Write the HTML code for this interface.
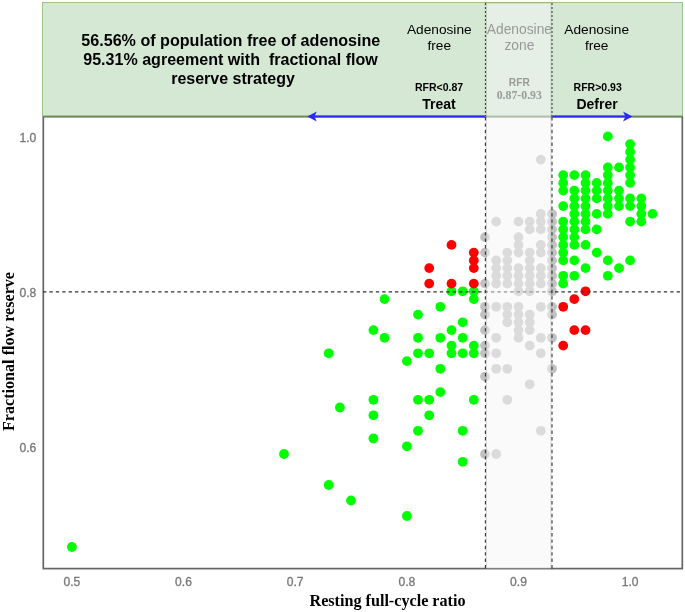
<!DOCTYPE html>
<html lang="en"><head><meta charset="utf-8"><title>Adenosine zone scatter plot</title>
<style>html,body{margin:0;padding:0;background:#fff}svg{display:block}</style></head>
<body>
<svg width="685" height="612" viewBox="0 0 685 612">
<rect width="685" height="612" fill="#fff"/>
<rect x="43.3" y="116.6" width="639" height="452" fill="#fff" stroke="#666" stroke-width="1.7"/>
<rect x="42.5" y="2.5" width="640" height="113.5" fill="#d5e8d4" stroke="#9cc48a" stroke-width="1"/>
<line x1="43" y1="116.5" x2="682.5" y2="116.5" stroke="#6d8a5c" stroke-width="1.4"/>
<g fill="#c1c1c1"><circle cx="485.0" cy="237.1" r="4.9"/><circle cx="485.0" cy="252.6" r="4.9"/><circle cx="485.0" cy="283.6" r="4.9"/><circle cx="485.0" cy="306.8" r="4.9"/><circle cx="485.0" cy="314.6" r="4.9"/><circle cx="485.0" cy="330.1" r="4.9"/><circle cx="485.0" cy="345.6" r="4.9"/><circle cx="485.0" cy="353.3" r="4.9"/><circle cx="485.0" cy="376.6" r="4.9"/><circle cx="485.0" cy="454.0" r="4.9"/><circle cx="496.2" cy="221.6" r="4.9"/><circle cx="496.2" cy="260.4" r="4.9"/><circle cx="496.2" cy="268.1" r="4.9"/><circle cx="496.2" cy="275.8" r="4.9"/><circle cx="496.2" cy="283.6" r="4.9"/><circle cx="496.2" cy="306.8" r="4.9"/><circle cx="496.2" cy="337.8" r="4.9"/><circle cx="496.2" cy="353.3" r="4.9"/><circle cx="496.2" cy="368.8" r="4.9"/><circle cx="496.2" cy="454.0" r="4.9"/><circle cx="507.3" cy="252.6" r="4.9"/><circle cx="507.3" cy="260.4" r="4.9"/><circle cx="507.3" cy="268.1" r="4.9"/><circle cx="507.3" cy="275.8" r="4.9"/><circle cx="507.3" cy="283.6" r="4.9"/><circle cx="507.3" cy="306.8" r="4.9"/><circle cx="507.3" cy="314.6" r="4.9"/><circle cx="507.3" cy="322.3" r="4.9"/><circle cx="507.3" cy="368.8" r="4.9"/><circle cx="507.3" cy="399.8" r="4.9"/><circle cx="518.5" cy="221.6" r="4.9"/><circle cx="518.5" cy="237.1" r="4.9"/><circle cx="518.5" cy="244.9" r="4.9"/><circle cx="518.5" cy="252.6" r="4.9"/><circle cx="518.5" cy="268.1" r="4.9"/><circle cx="518.5" cy="275.8" r="4.9"/><circle cx="518.5" cy="283.6" r="4.9"/><circle cx="518.5" cy="291.3" r="4.9"/><circle cx="518.5" cy="306.8" r="4.9"/><circle cx="518.5" cy="314.6" r="4.9"/><circle cx="518.5" cy="322.3" r="4.9"/><circle cx="518.5" cy="330.1" r="4.9"/><circle cx="518.5" cy="337.8" r="4.9"/><circle cx="529.7" cy="221.6" r="4.9"/><circle cx="529.7" cy="229.4" r="4.9"/><circle cx="529.7" cy="252.6" r="4.9"/><circle cx="529.7" cy="260.4" r="4.9"/><circle cx="529.7" cy="268.1" r="4.9"/><circle cx="529.7" cy="275.8" r="4.9"/><circle cx="529.7" cy="283.6" r="4.9"/><circle cx="529.7" cy="291.3" r="4.9"/><circle cx="529.7" cy="314.6" r="4.9"/><circle cx="529.7" cy="322.3" r="4.9"/><circle cx="529.7" cy="330.1" r="4.9"/><circle cx="529.7" cy="345.6" r="4.9"/><circle cx="529.7" cy="384.3" r="4.9"/><circle cx="540.8" cy="159.6" r="4.9"/><circle cx="540.8" cy="213.9" r="4.9"/><circle cx="540.8" cy="221.6" r="4.9"/><circle cx="540.8" cy="229.4" r="4.9"/><circle cx="540.8" cy="244.9" r="4.9"/><circle cx="540.8" cy="252.6" r="4.9"/><circle cx="540.8" cy="268.1" r="4.9"/><circle cx="540.8" cy="275.8" r="4.9"/><circle cx="540.8" cy="283.6" r="4.9"/><circle cx="540.8" cy="306.8" r="4.9"/><circle cx="540.8" cy="337.8" r="4.9"/><circle cx="540.8" cy="353.3" r="4.9"/><circle cx="540.8" cy="430.8" r="4.9"/><circle cx="552.0" cy="213.9" r="4.9"/><circle cx="552.0" cy="221.6" r="4.9"/><circle cx="552.0" cy="229.4" r="4.9"/><circle cx="552.0" cy="237.1" r="4.9"/><circle cx="552.0" cy="244.9" r="4.9"/><circle cx="552.0" cy="252.6" r="4.9"/><circle cx="552.0" cy="260.4" r="4.9"/><circle cx="552.0" cy="268.1" r="4.9"/><circle cx="552.0" cy="275.8" r="4.9"/><circle cx="552.0" cy="283.6" r="4.9"/><circle cx="552.0" cy="291.3" r="4.9"/><circle cx="552.0" cy="306.8" r="4.9"/><circle cx="552.0" cy="314.6" r="4.9"/><circle cx="552.0" cy="337.8" r="4.9"/><circle cx="552.0" cy="368.8" r="4.9"/></g>
<g fill="#00ff00"><circle cx="71.9" cy="547.0" r="4.9"/><circle cx="284.0" cy="454.0" r="4.9"/><circle cx="328.7" cy="485.0" r="4.9"/><circle cx="351.0" cy="500.5" r="4.9"/><circle cx="406.9" cy="516.0" r="4.9"/><circle cx="451.5" cy="291.3" r="4.9"/><circle cx="462.7" cy="291.3" r="4.9"/><circle cx="473.8" cy="291.3" r="4.9"/><circle cx="473.8" cy="299.1" r="4.9"/><circle cx="384.5" cy="299.1" r="4.9"/><circle cx="440.3" cy="306.8" r="4.9"/><circle cx="418.0" cy="314.6" r="4.9"/><circle cx="462.7" cy="322.3" r="4.9"/><circle cx="451.5" cy="330.1" r="4.9"/><circle cx="373.4" cy="330.1" r="4.9"/><circle cx="384.5" cy="337.8" r="4.9"/><circle cx="418.0" cy="337.8" r="4.9"/><circle cx="440.3" cy="337.8" r="4.9"/><circle cx="462.7" cy="337.8" r="4.9"/><circle cx="451.5" cy="345.6" r="4.9"/><circle cx="473.8" cy="345.6" r="4.9"/><circle cx="328.7" cy="353.3" r="4.9"/><circle cx="418.0" cy="353.3" r="4.9"/><circle cx="429.2" cy="353.3" r="4.9"/><circle cx="451.5" cy="353.3" r="4.9"/><circle cx="462.7" cy="353.3" r="4.9"/><circle cx="473.8" cy="353.3" r="4.9"/><circle cx="406.9" cy="361.1" r="4.9"/><circle cx="440.3" cy="368.8" r="4.9"/><circle cx="440.3" cy="392.1" r="4.9"/><circle cx="373.4" cy="399.8" r="4.9"/><circle cx="418.0" cy="399.8" r="4.9"/><circle cx="429.2" cy="399.8" r="4.9"/><circle cx="473.8" cy="399.8" r="4.9"/><circle cx="339.9" cy="407.5" r="4.9"/><circle cx="373.4" cy="415.3" r="4.9"/><circle cx="429.2" cy="415.3" r="4.9"/><circle cx="418.0" cy="430.8" r="4.9"/><circle cx="462.7" cy="430.8" r="4.9"/><circle cx="373.4" cy="438.5" r="4.9"/><circle cx="406.9" cy="446.3" r="4.9"/><circle cx="462.7" cy="461.8" r="4.9"/><circle cx="563.2" cy="175.1" r="4.9"/><circle cx="563.2" cy="182.9" r="4.9"/><circle cx="563.2" cy="190.6" r="4.9"/><circle cx="563.2" cy="206.1" r="4.9"/><circle cx="563.2" cy="221.6" r="4.9"/><circle cx="563.2" cy="229.4" r="4.9"/><circle cx="563.2" cy="237.1" r="4.9"/><circle cx="563.2" cy="244.9" r="4.9"/><circle cx="563.2" cy="252.6" r="4.9"/><circle cx="563.2" cy="260.4" r="4.9"/><circle cx="563.2" cy="275.8" r="4.9"/><circle cx="563.2" cy="283.6" r="4.9"/><circle cx="574.3" cy="175.1" r="4.9"/><circle cx="574.3" cy="190.6" r="4.9"/><circle cx="574.3" cy="198.4" r="4.9"/><circle cx="574.3" cy="206.1" r="4.9"/><circle cx="574.3" cy="213.9" r="4.9"/><circle cx="574.3" cy="221.6" r="4.9"/><circle cx="574.3" cy="229.4" r="4.9"/><circle cx="574.3" cy="237.1" r="4.9"/><circle cx="574.3" cy="244.9" r="4.9"/><circle cx="574.3" cy="260.4" r="4.9"/><circle cx="574.3" cy="275.8" r="4.9"/><circle cx="585.5" cy="175.1" r="4.9"/><circle cx="585.5" cy="182.9" r="4.9"/><circle cx="585.5" cy="190.6" r="4.9"/><circle cx="585.5" cy="198.4" r="4.9"/><circle cx="585.5" cy="206.1" r="4.9"/><circle cx="585.5" cy="213.9" r="4.9"/><circle cx="585.5" cy="221.6" r="4.9"/><circle cx="585.5" cy="229.4" r="4.9"/><circle cx="585.5" cy="244.9" r="4.9"/><circle cx="585.5" cy="268.1" r="4.9"/><circle cx="596.7" cy="182.9" r="4.9"/><circle cx="596.7" cy="190.6" r="4.9"/><circle cx="596.7" cy="198.4" r="4.9"/><circle cx="596.7" cy="213.9" r="4.9"/><circle cx="596.7" cy="229.4" r="4.9"/><circle cx="596.7" cy="252.6" r="4.9"/><circle cx="607.8" cy="136.4" r="4.9"/><circle cx="607.8" cy="167.4" r="4.9"/><circle cx="607.8" cy="175.1" r="4.9"/><circle cx="607.8" cy="182.9" r="4.9"/><circle cx="607.8" cy="190.6" r="4.9"/><circle cx="607.8" cy="198.4" r="4.9"/><circle cx="607.8" cy="206.1" r="4.9"/><circle cx="607.8" cy="213.9" r="4.9"/><circle cx="607.8" cy="260.4" r="4.9"/><circle cx="607.8" cy="275.8" r="4.9"/><circle cx="619.0" cy="167.4" r="4.9"/><circle cx="619.0" cy="190.6" r="4.9"/><circle cx="619.0" cy="198.4" r="4.9"/><circle cx="619.0" cy="206.1" r="4.9"/><circle cx="619.0" cy="268.1" r="4.9"/><circle cx="630.1" cy="144.1" r="4.9"/><circle cx="630.1" cy="151.9" r="4.9"/><circle cx="630.1" cy="159.6" r="4.9"/><circle cx="630.1" cy="167.4" r="4.9"/><circle cx="630.1" cy="175.1" r="4.9"/><circle cx="630.1" cy="182.9" r="4.9"/><circle cx="630.1" cy="198.4" r="4.9"/><circle cx="630.1" cy="206.1" r="4.9"/><circle cx="630.1" cy="221.6" r="4.9"/><circle cx="630.1" cy="260.4" r="4.9"/><circle cx="641.3" cy="198.4" r="4.9"/><circle cx="641.3" cy="206.1" r="4.9"/><circle cx="641.3" cy="213.9" r="4.9"/><circle cx="641.3" cy="221.6" r="4.9"/><circle cx="652.5" cy="213.9" r="4.9"/></g>
<g fill="#ff0000"><circle cx="451.5" cy="244.9" r="4.9"/><circle cx="473.8" cy="252.6" r="4.9"/><circle cx="473.8" cy="260.4" r="4.9"/><circle cx="473.8" cy="268.1" r="4.9"/><circle cx="429.2" cy="268.1" r="4.9"/><circle cx="429.2" cy="283.6" r="4.9"/><circle cx="451.5" cy="283.6" r="4.9"/><circle cx="473.8" cy="283.6" r="4.9"/><circle cx="585.5" cy="291.3" r="4.9"/><circle cx="574.3" cy="299.1" r="4.9"/><circle cx="563.2" cy="306.8" r="4.9"/><circle cx="574.3" cy="330.1" r="4.9"/><circle cx="585.5" cy="330.1" r="4.9"/><circle cx="563.2" cy="345.6" r="4.9"/></g>
<line x1="43" y1="291.9" x2="682" y2="291.9" stroke="#333" stroke-width="1.1" stroke-dasharray="3.4,3"/>
<rect x="486.5" y="3" width="64.5" height="565.5" fill="#f5f5f5" fill-opacity="0.5" stroke="#666" stroke-opacity="0.25" stroke-width="1"/>
<line x1="485.4" y1="3" x2="485.4" y2="116" stroke="#333" stroke-width="1" stroke-dasharray="2,2"/>
<line x1="485.4" y1="117" x2="485.4" y2="569" stroke="#333" stroke-width="1.1" stroke-dasharray="3.4,3"/>
<line x1="552.0" y1="3" x2="552.0" y2="116" stroke="#333" stroke-width="1" stroke-dasharray="2,2"/>
<line x1="552.0" y1="117" x2="552.0" y2="569" stroke="#333" stroke-width="1.1" stroke-dasharray="3.4,3"/>
<g stroke="#2a2aff" fill="#2a2aff"><line x1="312" y1="116.4" x2="485" y2="116.4" stroke-width="2"/><path d="M307.2 116.4 L316.8 111.4 L314.4 116.4 L316.8 121.4 Z" stroke="none"/><line x1="552.5" y1="116.4" x2="627" y2="116.4" stroke-width="2"/><path d="M632.6 116.4 L623 111.4 L625.4 116.4 L623 121.4 Z" stroke="none"/></g>
<g font-family="Liberation Sans, Arial, sans-serif" font-size="12.1" fill="#777" stroke="#777" stroke-width="0.3">
<text x="71.9" y="585.7" text-anchor="middle">0.5</text>
<text x="183.5" y="585.7" text-anchor="middle">0.6</text>
<text x="295.2" y="585.7" text-anchor="middle">0.7</text>
<text x="406.9" y="585.7" text-anchor="middle">0.8</text>
<text x="518.5" y="585.7" text-anchor="middle">0.9</text>
<text x="630.1" y="585.7" text-anchor="middle">1.0</text>
<text x="36.3" y="142.0" text-anchor="end">1.0</text>
<text x="36.3" y="296.9" text-anchor="end">0.8</text>
<text x="36.3" y="451.9" text-anchor="end">0.6</text>
</g>
<g font-family="Liberation Serif, Times New Roman, serif" font-weight="bold" fill="#000">
<text x="387.5" y="606" text-anchor="middle" font-size="16" textLength="156" lengthAdjust="spacingAndGlyphs">Resting full-cycle ratio</text>
<text transform="translate(14,351.5) rotate(-90)" text-anchor="middle" font-size="16" textLength="159" lengthAdjust="spacingAndGlyphs">Fractional flow reserve</text>
</g>
<g font-family="Liberation Sans, Arial, sans-serif" fill="#000" text-anchor="middle">
<g font-weight="bold" font-size="16"><text x="230.8" y="46" textLength="299" lengthAdjust="spacingAndGlyphs">56.56% of population free of adenosine</text><text x="230.5" y="65.2" textLength="294.5" lengthAdjust="spacingAndGlyphs">95.31% agreement with&#160;&#160;fractional flow</text><text x="233" y="84.4">reserve strategy</text></g>
<g font-size="13.7"><text x="439.3" y="33.8">Adenosine</text><text x="439.3" y="50.4">free</text><text x="596.7" y="33.8">Adenosine</text><text x="596.7" y="50.4">free</text></g>
<g font-size="13.8" fill="#999"><text x="519.4" y="33.8">Adenosine</text><text x="519.4" y="50.4">zone</text></g>
<g font-weight="bold" font-size="10.5"><text x="439" y="90.7">RFR&lt;0.87</text><text x="597.7" y="90.7">RFR&gt;0.93</text></g>
<g font-weight="bold" font-size="14"><text x="439" y="108.7">Treat</text><text x="597" y="108.7">Defrer</text></g>
<g font-weight="bold" fill="#9a9a9a"><text x="519.3" y="86" font-size="10.2">RFR</text><text x="519.3" y="99" font-size="11.8" font-family="Liberation Serif, Times New Roman, serif">0.87-0.93</text></g>
</g>
</svg>
</body></html>
